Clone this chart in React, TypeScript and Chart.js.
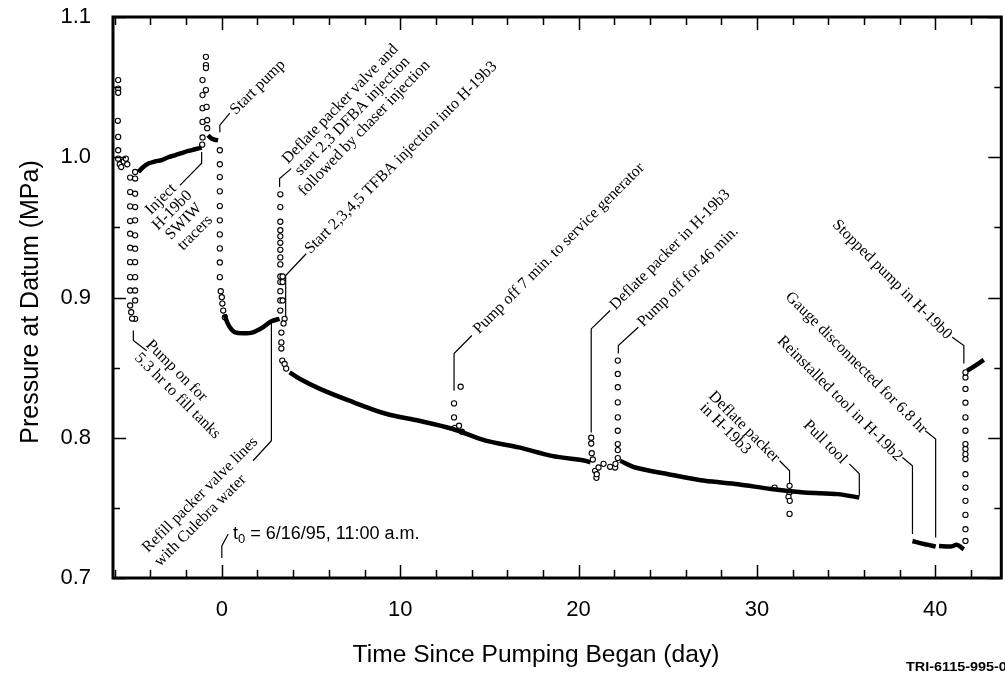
import React, { useEffect, useRef } from "react";
import { Chart, registerables } from "chart.js";

Chart.register(...registerables);

// ---------- axes ----------
const X_MIN = -6.1;
const X_MAX = 43.7;
const Y_MIN = 0.7;
const Y_MAX = 1.1;
const X_STEP = 2;
const Y_STEP = 0.05;
const X_LABEL_EVERY = 10;
const Y_LABEL_EVERY = 0.1;
const X_TITLE = "Time Since Pumping Began (day)";
const Y_TITLE = "Pressure at Datum (MPa)";
const FIGURE_ID = "TRI-6115-995-0";

// ---------- individual readings [day, MPa] ----------
const earlyPoints = [
  [-5.81, 1.055], [-5.81, 1.049], [-5.81, 1.046], [-5.83, 1.026], [-5.81, 1.0145], [-5.81, 1.005],
  [-5.81, 0.999], [-5.72, 0.995], [-5.64, 0.993], [-5.5, 0.997], [-5.38, 0.999], [-5.3, 0.995],
  [-5.14, 0.9855], [-5.14, 0.9752], [-5.14, 0.965], [-5.14, 0.9545], [-5.14, 0.9455], [-5.14, 0.9355],
  [-5.14, 0.9252], [-5.14, 0.9145], [-5.14, 0.905], [-5.14, 0.8943],
  [-4.86, 0.9895], [-4.86, 0.9848], [-4.86, 0.974], [-4.86, 0.9645], [-4.86, 0.955], [-4.86, 0.9443],
  [-4.86, 0.9348], [-4.86, 0.9252], [-4.86, 0.9145], [-4.86, 0.905], [-4.86, 0.8979], [-4.86, 0.8848],
  [-5.03, 0.885], [-5.08, 0.8895],
];
const tracerPoints = [
  [-0.89, 1.0716], [-0.89, 1.0657], [-0.89, 1.0636], [-1.08, 1.055], [-0.89, 1.0479], [-1.08, 1.0443],
  [-1.08, 1.035], [-0.85, 1.0359], [-1.08, 1.0252], [-0.82, 1.0264], [-0.82, 1.0207], [-1.08, 1.0141],
  [-1.1, 1.009],
];
const pumpStartPoints = [
  [-0.11, 1.005], [-0.11, 0.995], [-0.11, 0.9859], [-0.11, 0.9757], [-0.11, 0.9652], [-0.11, 0.955],
  [-0.11, 0.945], [-0.11, 0.935], [-0.11, 0.925], [-0.11, 0.9145], [-0.06, 0.9045], [0.0, 0.9002],
  [0.03, 0.8957], [0.08, 0.8907], [0.17, 0.8859],
];
const packerPoints = [
  [3.28, 0.9736], [3.28, 0.9645], [3.28, 0.954], [3.28, 0.948], [3.28, 0.9436], [3.28, 0.939],
  [3.28, 0.934], [3.28, 0.9286], [3.28, 0.9236], [3.28, 0.915], [3.41, 0.915], [3.28, 0.911],
  [3.41, 0.911], [3.28, 0.9045], [3.28, 0.8979], [3.41, 0.8979], [3.28, 0.8907], [3.52, 0.8848],
  [3.46, 0.8815], [3.34, 0.875], [3.34, 0.868], [3.34, 0.8636], [3.39, 0.855], [3.52, 0.8526],
  [3.61, 0.8493],
];
const midPoints = [
  [13.02, 0.8145], [13.02, 0.8245], [13.39, 0.8364], [13.07, 0.8071], [13.3, 0.8086], [13.46, 0.8043],
  [20.71, 0.8], [20.71, 0.7959], [20.74, 0.789], [20.8, 0.7845], [20.93, 0.7764], [21.0, 0.7714],
  [21.02, 0.774], [21.12, 0.7788], [21.4, 0.7814], [21.77, 0.7793], [22.05, 0.7788], [22.07, 0.7814],
  [22.2, 0.7855], [22.2, 0.7912], [22.2, 0.7955], [22.2, 0.805], [22.2, 0.8145], [22.2, 0.8252],
  [22.2, 0.836], [22.2, 0.8455], [22.2, 0.855],
];
const latePoints = [
  [30.99, 0.7645], [31.83, 0.7657], [31.83, 0.761], [31.77, 0.7579], [31.84, 0.755], [31.83, 0.7457],
  [41.69, 0.7264], [41.69, 0.7348], [41.69, 0.745], [41.69, 0.755], [41.69, 0.7645], [41.69, 0.774],
  [41.69, 0.7848], [41.69, 0.7883], [41.69, 0.792], [41.69, 0.7955], [41.69, 0.805], [41.69, 0.8145],
  [41.69, 0.825], [41.69, 0.8348], [41.69, 0.843], [41.69, 0.8466],
];

// ---------- densely logged stretches [day, MPa] ----------
const preInjectTrace = [
  [-4.68, 0.9895], [-4.4, 0.993], [-4.12, 0.9955], [-3.75, 0.997], [-3.37, 0.998], [-3.0, 1.0],
  [-2.63, 1.0014], [-2.25, 1.003], [-1.88, 1.0045], [-1.5, 1.0057], [-1.13, 1.0069],
];
const startPumpTrace = [[-0.77, 1.0157], [-0.68, 1.0145], [-0.58, 1.0134], [-0.4, 1.0125], [-0.21, 1.0121]];
const drawdownTrace = [
  [0.17, 0.888], [0.26, 0.8836], [0.45, 0.8788], [0.73, 0.8752], [1.2, 0.8745], [1.75, 0.8752],
  [2.31, 0.8788], [2.78, 0.883], [3.24, 0.8848],
];
const mainTrace = [
  [3.8, 0.8466], [4.36, 0.842], [5.47, 0.835], [7.15, 0.8264], [9.2, 0.8171], [11.06, 0.8121],
  [12.91, 0.8064], [14.79, 0.7979], [16.65, 0.7931], [18.49, 0.7871], [20.37, 0.7836], [20.67, 0.7825],
];
const lateTrace = [
  [22.33, 0.7836], [23.17, 0.7788], [25.03, 0.774], [27.08, 0.7693], [28.94, 0.7669], [30.8, 0.7634],
  [32.66, 0.761], [34.53, 0.7598], [35.74, 0.7574],
];
const reinstalledTrace = [[38.72, 0.7264], [39.1, 0.725], [39.55, 0.7238], [40.02, 0.7224]];
const reconnectedTrace = [[40.21, 0.7229], [40.86, 0.7224], [41.23, 0.7236], [41.6, 0.7205]];
const stoppedTrace = [[41.79, 0.8479], [42.2, 0.851], [42.72, 0.8555]];

// ---------- annotations (text, day, MPa, angle, align) ----------
const noteLines: [string, number, number, number, CanvasTextAlign][] = [
  ["Inject", -3.41, 0.97, -45, "center"],
  ["H-19b0", -2.77, 0.9621, -45, "center"],
  ["SWIW", -2.13, 0.9541, -45, "center"],
  ["tracers", -1.49, 0.9461, -45, "center"],
  ["Start pump", 0.62, 1.0321, -45, "left"],
  ["Deflate packer valve and", 6.65, 1.0379, -46, "center"],
  ["start 2,3 DFBA injection", 7.32, 1.0293, -46, "center"],
  ["followed by chaser injection", 7.99, 1.0207, -46, "center"],
  ["Start 2,3,4,5 TFBA injection into H-19b3", 4.8, 0.9329, -45, "left"],
  ["Refill packer valve lines", -4.3, 0.72, -45, "left"],
  ["with Culebra water", -3.63, 0.71, -45, "left"],
  ["Pump on for", -4.13, 0.8679, 45, "left"],
  ["5.3 hr to fill tanks", -4.75, 0.8586, 45, "left"],
  ["Pump off 7 min. to service generator", 14.25, 0.8757, -45, "left"],
  ["Deflate packer in H-19b3", 21.9, 0.8929, -45, "left"],
  ["Pump off for 46 min.", 23.46, 0.8807, -45, "left"],
  ["Deflate packer", 27.43, 0.8314, 45, "left"],
  ["in H-19b3", 26.93, 0.8229, 45, "left"],
  ["Pull tool", 32.74, 0.8107, 45, "left"],
  ["Reinstalled tool in H-19b2", 31.28, 0.8707, 45, "left"],
  ["Gauge disconnected for 6.8 hr", 31.73, 0.9021, 45, "left"],
  ["Stopped pump in H-19b0", 34.36, 0.9536, 45, "left"],
];
const startNote = { main: "t", sub: "0", rest: " = 6/16/95, 11:00 a.m.", day: 0.63, p: 0.7314 };

const leaderPaths = [
  [[-1.13, 1.0038], [-1.13, 0.9957], [-2.35, 0.98]],
  [[-0.11, 1.0179], [-0.11, 1.0229], [0.45, 1.0314]],
  [[3.24, 0.9788], [3.24, 0.9848], [3.89, 0.9919]],
  [[3.58, 0.8859], [3.58, 0.9157], [4.73, 0.9312]],
  [[2.78, 0.8831], [2.78, 0.7979], [1.75, 0.7836]],
  [[-4.96, 0.8764], [-4.96, 0.8693], [-4.21, 0.8621]],
  [[0, 0.7143], [0, 0.7229], [0.36, 0.7314]],
  [[13.02, 0.8336], [13.02, 0.86], [14.02, 0.8729]],
  [[20.71, 0.8038], [20.71, 0.8776], [21.77, 0.8907]],
  [[22.23, 0.86], [22.23, 0.8657], [23.35, 0.8788]],
  [[31.83, 0.7671], [31.83, 0.7764], [31.27, 0.7836]],
  [[35.74, 0.7586], [35.74, 0.7743], [35.18, 0.7814]],
  [[38.72, 0.7314], [38.72, 0.78], [38.16, 0.7859]],
  [[40.02, 0.7288], [40.02, 0.7991], [39.44, 0.805]],
  [[41.6, 0.8529], [41.6, 0.8657], [40.95, 0.8716]],
];

const SANS = '"Liberation Sans", Arial, Helvetica, sans-serif';
const SERIF = '"Liberation Serif", "Times New Roman", serif';

const isMultiple = (v: number, step: number) => Math.abs(v / step - Math.round(v / step)) < 1e-6;
const toXY = (pts: number[][]) => pts.map(([x, y]) => ({ x, y }));

const overlayPlugin = {
  id: "overlay",
  afterDatasetsDraw(chart: any) {
    const { ctx, chartArea: a, scales } = chart;
    const xs = scales.x;
    const ys = scales.y;
    ctx.save();
    ctx.strokeStyle = "#000";
    ctx.fillStyle = "#000";
    // inward ticks on all four sides
    ctx.lineWidth = 1.5;
    ctx.beginPath();
    xs.ticks.forEach((t: any) => {
      const px = Math.round(xs.getPixelForValue(t.value)) + 0.5;
      const len = isMultiple(t.value, X_LABEL_EVERY) ? 13 : 8;
      ctx.moveTo(px, a.bottom);
      ctx.lineTo(px, a.bottom - len);
      ctx.moveTo(px, a.top);
      ctx.lineTo(px, a.top + len);
    });
    ys.ticks.forEach((t: any) => {
      const py = Math.round(ys.getPixelForValue(t.value)) + 0.5;
      const len = isMultiple(t.value, Y_LABEL_EVERY) ? 13 : 7;
      ctx.moveTo(a.left, py);
      ctx.lineTo(a.left + len, py);
      ctx.moveTo(a.right, py);
      ctx.lineTo(a.right - len, py);
    });
    ctx.stroke();
    // frame
    ctx.lineWidth = 3;
    ctx.strokeRect(a.left, a.top, a.right - a.left, a.bottom - a.top);
    // leader lines
    ctx.lineWidth = 1.2;
    leaderPaths.forEach((path) => {
      ctx.beginPath();
      path.forEach(([d, p], i) => {
        const px = xs.getPixelForValue(d);
        const py = ys.getPixelForValue(p);
        if (i === 0) ctx.moveTo(px, py);
        else ctx.lineTo(px, py);
      });
      ctx.stroke();
    });
    // rotated notes
    ctx.font = `16px ${SERIF}`;
    ctx.textBaseline = "middle";
    noteLines.forEach(([text, d, p, ang, align]) => {
      ctx.save();
      ctx.translate(xs.getPixelForValue(d), ys.getPixelForValue(p));
      ctx.rotate((ang * Math.PI) / 180);
      ctx.textAlign = align;
      ctx.fillText(text, 0, 0);
      ctx.restore();
    });
    // t0 note
    {
      let px = xs.getPixelForValue(startNote.day);
      const py = ys.getPixelForValue(startNote.p);
      ctx.textAlign = "left";
      ctx.font = `18px ${SANS}`;
      ctx.fillText(startNote.main, px, py);
      px += ctx.measureText(startNote.main).width;
      ctx.font = `13px ${SANS}`;
      ctx.fillText(startNote.sub, px, py + 5);
      px += ctx.measureText(startNote.sub).width;
      ctx.font = `18px ${SANS}`;
      ctx.fillText(startNote.rest, px, py);
    }
    // axis titles
    ctx.font = `24.6px ${SANS}`;
    ctx.textAlign = "center";
    ctx.fillText(X_TITLE, 536, 655);
    ctx.save();
    ctx.translate(31, 302);
    ctx.rotate(-Math.PI / 2);
    ctx.font = `25px ${SANS}`;
    ctx.fillText(Y_TITLE, 0, 0);
    ctx.restore();
    // figure id
    ctx.save();
    ctx.font = `bold 12px ${SANS}`;
    ctx.textAlign = "left";
    ctx.translate(906, 668);
    ctx.scale(1.2, 1);
    ctx.fillText(FIGURE_ID, 0, 0);
    ctx.restore();
    ctx.restore();
  },
};

const zeroPadding = (s: any) => {
  s.paddingTop = 0;
  s.paddingBottom = 0;
  s.paddingLeft = 0;
  s.paddingRight = 0;
};

export default function App() {
  const ref = useRef<HTMLCanvasElement | null>(null);
  useEffect(() => {
    if (!ref.current) return;
    const pointStyle = {
      showLine: false,
      pointRadius: 2.6,
      pointBorderWidth: 1.1,
      pointBorderColor: "#000",
      pointBackgroundColor: "#fff",
      pointHoverRadius: 2.6,
    };
    const traceStyle = {
      showLine: true,
      borderColor: "#000",
      borderWidth: 4.5,
      pointRadius: 0,
      pointHoverRadius: 0,
      tension: 0.3,
      fill: false,
    };
    const sparse = [earlyPoints, tracerPoints, pumpStartPoints, packerPoints, midPoints, latePoints];
    const traces = [
      preInjectTrace, startPumpTrace, drawdownTrace, mainTrace, lateTrace,
      reinstalledTrace, reconnectedTrace, stoppedTrace,
    ];
    const chart = new Chart(ref.current, {
      type: "scatter",
      data: {
        datasets: [
          ...traces.map((t) => ({ data: toXY(t), ...traceStyle })),
          ...sparse.map((s) => ({ data: toXY(s), ...pointStyle })),
        ],
      },
      options: {
        animation: false,
        responsive: false,
        devicePixelRatio: 1,
        layout: { padding: { top: 17, right: 1, left: 0, bottom: 0 } },
        plugins: { legend: { display: false }, tooltip: { enabled: false } },
        scales: {
          x: {
            type: "linear",
            min: X_MIN,
            max: X_MAX,
            grid: { display: false, drawTicks: false },
            border: { display: false },
            ticks: {
              stepSize: X_STEP,
              includeBounds: false,
              autoSkip: false,
              maxRotation: 0,
              color: "#000",
              padding: 19,
              font: { family: SANS, size: 22 },
              callback: (v: any) => (isMultiple(Number(v), X_LABEL_EVERY) ? String(Math.round(Number(v))) : ""),
            },
            title: { display: false },
            afterFit: (s: any) => {
              s.height = 99;
              zeroPadding(s);
            },
          },
          y: {
            type: "linear",
            min: Y_MIN,
            max: Y_MAX,
            grid: { display: false, drawTicks: false },
            border: { display: false },
            ticks: {
              stepSize: Y_STEP,
              includeBounds: false,
              autoSkip: false,
              color: "#000",
              padding: 22,
              font: { family: SANS, size: 22 },
              callback: (v: any) => (isMultiple(Number(v), Y_LABEL_EVERY) ? Number(v).toFixed(1) : ""),
            },
            title: { display: false },
            afterFit: (s: any) => {
              s.width = 113;
              zeroPadding(s);
            },
          },
        },
      },
      plugins: [overlayPlugin],
    } as any);
    return () => chart.destroy();
  }, []);
  return (
    <div style={{ position: "absolute", left: 0, top: 0, width: 1005, height: 677, background: "#fff" }}>
      <canvas ref={ref} width={1005} height={677} style={{ display: "block" }} />
    </div>
  );
}
